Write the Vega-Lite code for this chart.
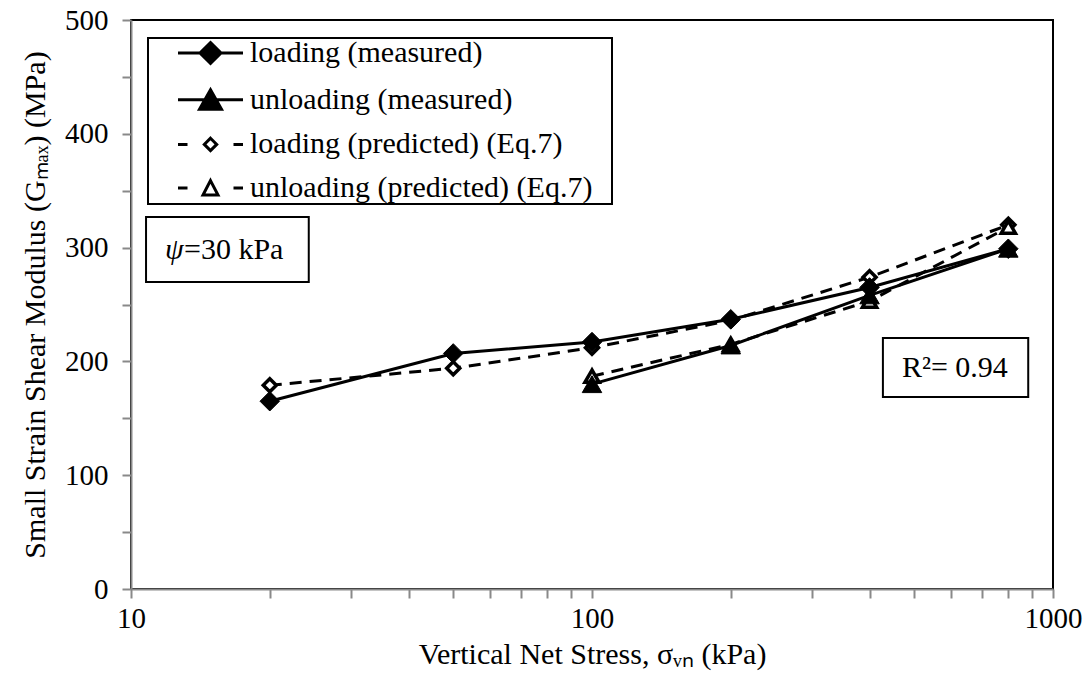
{
  "$schema": "https://vega.github.io/schema/vega-lite/v6.json",
  "width": 922,
  "height": 569,
  "autosize": {"type": "none"},
  "padding": {"left": 131, "top": 20, "right": 36, "bottom": 97},
  "background": "white",
  "config": {
    "view": {"stroke": "black", "strokeWidth": 2},
    "font": "Liberation Serif",
    "axis": {
      "domainColor": "#898989", "domainWidth": 2,
      "tickColor": "#898989", "tickWidth": 2,
      "labelFont": "Liberation Serif", "labelFontSize": 29, "labelColor": "black",
      "titleFont": "Liberation Serif", "titleFontSize": 30, "titleFontWeight": "normal", "titleColor": "black",
      "grid": false
    },
    "axisLeft": {"labelFont": "Liberation Serif", "titleFont": "Liberation Serif", "labelFontSize": 29, "titleFontSize": 30},
    "axisBottom": {"labelFont": "Liberation Serif", "titleFont": "Liberation Serif", "labelFontSize": 29, "titleFontSize": 30},
    "axisX": {"labelFont": "Liberation Serif", "titleFont": "Liberation Serif"},
    "axisY": {"labelFont": "Liberation Serif", "titleFont": "Liberation Serif"},
    "axisQuantitative": {"labelFont": "Liberation Serif", "titleFont": "Liberation Serif"},
    "legend": {"strokeWidth": 2}
  },
  "datasets": {
    "gmax": [
      {"series": "loading (measured)", "type": "measured", "stress": 20, "G": 165},
      {"series": "loading (measured)", "type": "measured", "stress": 50, "G": 207},
      {"series": "loading (measured)", "type": "measured", "stress": 100, "G": 217},
      {"series": "loading (measured)", "type": "measured", "stress": 200, "G": 237},
      {"series": "loading (measured)", "type": "measured", "stress": 400, "G": 265},
      {"series": "loading (measured)", "type": "measured", "stress": 800, "G": 299},
      {"series": "unloading (measured)", "type": "measured", "stress": 800, "G": 299},
      {"series": "unloading (measured)", "type": "measured", "stress": 400, "G": 258},
      {"series": "unloading (measured)", "type": "measured", "stress": 200, "G": 214},
      {"series": "unloading (measured)", "type": "measured", "stress": 100, "G": 180},
      {"series": "loading (predicted) (Eq.7)", "type": "predicted", "stress": 20, "G": 179},
      {"series": "loading (predicted) (Eq.7)", "type": "predicted", "stress": 50, "G": 194},
      {"series": "loading (predicted) (Eq.7)", "type": "predicted", "stress": 100, "G": 212},
      {"series": "loading (predicted) (Eq.7)", "type": "predicted", "stress": 200, "G": 236},
      {"series": "loading (predicted) (Eq.7)", "type": "predicted", "stress": 400, "G": 274},
      {"series": "loading (predicted) (Eq.7)", "type": "predicted", "stress": 800, "G": 320},
      {"series": "unloading (predicted) (Eq.7)", "type": "predicted", "stress": 800, "G": 318},
      {"series": "unloading (predicted) (Eq.7)", "type": "predicted", "stress": 400, "G": 253},
      {"series": "unloading (predicted) (Eq.7)", "type": "predicted", "stress": 200, "G": 215},
      {"series": "unloading (predicted) (Eq.7)", "type": "predicted", "stress": 100, "G": 187}
    ]
  },
  "data": {"name": "gmax"},
  "encoding": {
    "x": {
      "field": "stress", "type": "quantitative",
      "scale": {"type": "log", "domain": [10, 1000], "nice": false},
      "title": "Vertical Net Stress, σᵥₙ (kPa)",
      "axis": {
        "values": [10, 20, 30, 40, 50, 60, 70, 80, 90, 100, 200, 300, 400, 500, 600, 700, 800, 900, 1000],
        "labelExpr": "(datum.value === 10 || datum.value === 100 || datum.value === 1000) ? format(datum.value, 'd') : ''",
        "labelOverlap": false, "labelFlush": false, "labelBound": false,
        "labelFont": "Liberation Serif", "labelFontSize": 29, "labelColor": "black",
        "titleFont": "Liberation Serif", "titleFontSize": 30, "titleFontWeight": "normal", "titleColor": "black",
        "domainColor": "#898989", "domainWidth": 2, "tickColor": "#898989", "tickWidth": 2,
        "tickSize": 9, "labelPadding": 6, "titlePadding": 6, "zindex": 1,
        "style": "serifaxis",
        "encode": {
          "ticks": {"update": {"y2": {"signal": "(datum.value === 10 || datum.value === 100 || datum.value === 1000) ? 9 : 6"}}}
        }
      }
    },
    "y": {
      "field": "G", "type": "quantitative",
      "scale": {"domain": [0, 500], "nice": false, "zero": true},
      "title": "Small Strain Shear Modulus (Gₘₐₓ) (MPa)",
      "axis": {
        "values": [0, 50, 100, 150, 200, 250, 300, 350, 400, 450, 500],
        "labelExpr": "datum.value % 100 === 0 ? datum.label : ''",
        "labelOverlap": false, "labelFlush": false,
        "labelFont": "Liberation Serif", "labelFontSize": 29, "labelColor": "black",
        "titleFont": "Liberation Serif", "titleFontSize": 30, "titleFontWeight": "normal", "titleColor": "black",
        "domainColor": "#898989", "domainWidth": 2, "tickColor": "#898989", "tickWidth": 2,
        "tickSize": 9, "labelPadding": 14, "titlePadding": 14, "zindex": 1,
        "style": "serifaxis",
        "encode": {
          "ticks": {"update": {
            "x": {"signal": "datum.value % 100 === 0 ? 9 : 0"},
            "x2": {"signal": "datum.value % 100 === 0 ? -9 : -7"}
          }}
        }
      }
    }
  },
  "layer": [
    {
      "mark": {"type": "line", "stroke": "black", "strokeWidth": 3, "strokeDash": [12, 8]},
      "transform": [{"filter": "datum.type === 'predicted'"}],
      "encoding": {"detail": {"field": "series", "type": "nominal"}}
    },
    {
      "mark": {"type": "point", "shape": "diamond", "filled": true, "fill": "white", "stroke": "black", "strokeWidth": 3.5, "size": 170, "opacity": 1},
      "transform": [{"filter": "datum.series === 'loading (predicted) (Eq.7)'"}]
    },
    {
      "mark": {"type": "point", "shape": "triangle-up", "filled": true, "fill": "white", "stroke": "black", "strokeWidth": 3.5, "size": 200, "opacity": 1},
      "transform": [{"filter": "datum.series === 'unloading (predicted) (Eq.7)'"}]
    },
    {
      "mark": {"type": "line", "stroke": "black", "strokeWidth": 3},
      "transform": [{"filter": "datum.type === 'measured'"}],
      "encoding": {"detail": {"field": "series", "type": "nominal"}}
    },
    {
      "mark": {"type": "point", "shape": "diamond", "filled": true, "fill": "black", "stroke": "black", "strokeWidth": 1, "size": 380, "opacity": 1},
      "transform": [{"filter": "datum.series === 'loading (measured)'"}]
    },
    {
      "mark": {"type": "point", "shape": "triangle-up", "filled": true, "fill": "black", "stroke": "black", "strokeWidth": 1, "size": 380, "opacity": 1},
      "transform": [{"filter": "datum.series === 'unloading (measured)'"}]
    },
    {
      "mark": {"type": "rect", "fill": "white", "stroke": "black", "strokeWidth": 2},
      "transform": [{"filter": "datum.stress === 20 && datum.series === 'loading (measured)'"}],
      "encoding": {
        "x": {"datum": 10.78, "type": "quantitative"},
        "x2": {"datum": 24.3},
        "y": {"datum": 269.8, "type": "quantitative"},
        "y2": {"datum": 326.9}
      }
    },
    {
      "mark": {"type": "text", "text": "ψ", "fontStyle": "italic", "font": "Liberation Serif", "fontSize": 30, "align": "left", "baseline": "middle", "color": "black"},
      "transform": [{"filter": "datum.stress === 20 && datum.series === 'loading (measured)'"}],
      "encoding": {
        "x": {"datum": 11.85, "type": "quantitative"},
        "y": {"datum": 298, "type": "quantitative"}
      }
    },
    {
      "mark": {"type": "text", "text": "=30 kPa", "font": "Liberation Serif", "fontSize": 30, "align": "left", "baseline": "middle", "dx": 19, "color": "black"},
      "transform": [{"filter": "datum.stress === 20 && datum.series === 'loading (measured)'"}],
      "encoding": {
        "x": {"datum": 11.85, "type": "quantitative"},
        "y": {"datum": 298, "type": "quantitative"}
      }
    },
    {
      "mark": {"type": "rect", "fill": "white", "stroke": "black", "strokeWidth": 2},
      "transform": [{"filter": "datum.stress === 20 && datum.series === 'loading (measured)'"}],
      "encoding": {
        "x": {"datum": 427.6, "type": "quantitative"},
        "x2": {"datum": 883.6},
        "y": {"datum": 168.7, "type": "quantitative"},
        "y2": {"datum": 220.6}
      }
    },
    {
      "mark": {"type": "text", "text": "R²= 0.94", "font": "Liberation Serif", "fontSize": 30, "align": "center", "baseline": "middle", "color": "black"},
      "transform": [{"filter": "datum.stress === 20 && datum.series === 'loading (measured)'"}],
      "encoding": {
        "x": {"datum": 612.5, "type": "quantitative"},
        "y": {"datum": 194.2, "type": "quantitative"}
      }
    },
    {
      "transform": [{"filter": "false"}],
      "mark": {"type": "point", "filled": true, "stroke": "black", "strokeWidth": 3, "opacity": 1},
      "encoding": {
        "shape": {
          "field": "series", "type": "nominal",
          "scale": {
            "domain": ["loading (measured)", "unloading (measured)", "loading (predicted) (Eq.7)", "unloading (predicted) (Eq.7)"],
            "range": [
              "M-3.25,0H3.25M0,-1.05L1.05,0L0,1.05L-1.05,0Z",
              "M-3.25,0H3.25M0,-1L1.1,0.95L-1.1,0.95Z",
              "M-3.25,0H-2.3M2.3,0H3.25M0,-0.62L0.62,0L0,0.62L-0.62,0Z",
              "M-3.25,0H-2.3M2.3,0H3.25M0,-0.75L0.75,0.7L-0.75,0.7Z"
            ]
          },
          "legend": {
            "title": ".", "titleOrient": "right", "titleColor": "white", "titleFontSize": 30, "titlePadding": 12,
            "orient": "none", "legendX": 17, "legendY": 18,
            "padding": 0, "strokeColor": "black", "fillColor": "white",
            "labelFont": "Liberation Serif", "labelFontSize": 30, "labelColor": "black", "labelLimit": 0,
            "symbolSize": 400, "symbolOffset": 47.5, "labelOffset": 24.5, "rowPadding": 13.7,
            "symbolStrokeColor": "black", "symbolStrokeWidth": 3
          }
        },
        "fill": {
          "field": "series", "type": "nominal",
          "scale": {
            "domain": ["loading (measured)", "unloading (measured)", "loading (predicted) (Eq.7)", "unloading (predicted) (Eq.7)"],
            "range": ["black", "black", "white", "white"]
          },
          "legend": {
            "title": ".", "titleOrient": "right", "titleColor": "white", "titleFontSize": 30, "titlePadding": 12,
            "orient": "none", "legendX": 17, "legendY": 18,
            "padding": 0, "strokeColor": "black", "fillColor": "white",
            "labelFont": "Liberation Serif", "labelFontSize": 30, "labelColor": "black", "labelLimit": 0,
            "symbolSize": 400, "symbolOffset": 47.5, "labelOffset": 24.5, "rowPadding": 13.7,
            "symbolStrokeColor": "black", "symbolStrokeWidth": 3
          }
        },
        "stroke": {
          "field": "series", "type": "nominal",
          "scale": {
            "domain": ["loading (measured)", "unloading (measured)", "loading (predicted) (Eq.7)", "unloading (predicted) (Eq.7)"],
            "range": ["black", "black", "black", "black"]
          },
          "legend": {
            "title": ".", "titleOrient": "right", "titleColor": "white", "titleFontSize": 30, "titlePadding": 12,
            "orient": "none", "legendX": 17, "legendY": 18,
            "padding": 0, "strokeColor": "black", "fillColor": "white",
            "labelFont": "Liberation Serif", "labelFontSize": 30, "labelColor": "black", "labelLimit": 0,
            "symbolSize": 400, "symbolOffset": 47.5, "labelOffset": 24.5, "rowPadding": 13.7,
            "symbolStrokeColor": "black", "symbolStrokeWidth": 3
          }
        }
      }
    }
  ]
}
